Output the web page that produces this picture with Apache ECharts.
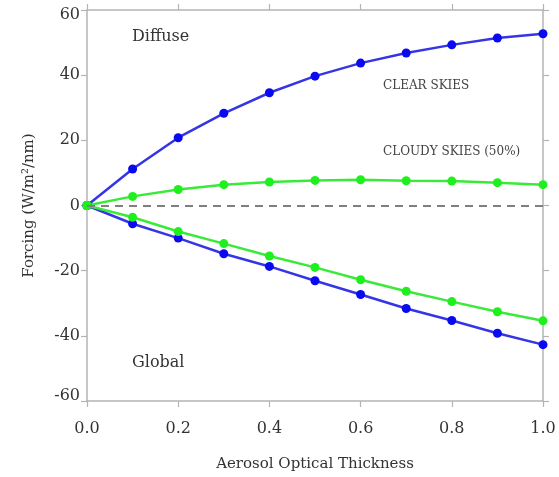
<!DOCTYPE html>
<html>
<head>
<meta charset="utf-8">
<script src="https://cdn.jsdelivr.net/npm/echarts@6/dist/echarts.min.js"></script>
<style>
html,body{margin:0;padding:0;background:#fff;}
#c{width:559px;height:477px;}
</style>
</head>
<body>
<div id="c"></div>
<script>
var aot = [0, 0.1, 0.2, 0.3, 0.4, 0.5, 0.6, 0.7, 0.8, 0.9, 1.0];
var clearDiffuse = [0, 11.2, 20.8, 28.3, 34.6, 39.7, 43.7, 46.8, 49.3, 51.4, 52.7];
var cloudyDiffuse = [0, 2.8, 4.9, 6.4, 7.2, 7.7, 7.9, 7.6, 7.5, 7.0, 6.4];
var clearGlobal = [0, -5.6, -10.0, -14.8, -18.7, -23.1, -27.3, -31.6, -35.3, -39.2, -42.7];
var cloudyGlobal = [0, -3.6, -8.0, -11.7, -15.5, -19.0, -22.8, -26.3, -29.5, -32.6, -35.4];
var xTicks = [0, 0.2, 0.4, 0.6, 0.8, 1.0];
var yTicks = [-60, -40, -20, 0, 20, 40, 60];

var FONT = 'DejaVu Serif';
var AXC = '#b4b4b4';
var TXT = '#333';

function pairs(ys){ return aot.map(function(x,i){ return [x, ys[i]]; }); }

function lineSeries(name, ys, line, dot){
  return {
    name: name, type: 'line', data: pairs(ys),
    symbol: 'circle', symbolSize: 9,
    lineStyle: {color: line, width: 2.5},
    itemStyle: {color: dot},
    animation: false, z: 3
  };
}

var chart = echarts.init(document.getElementById('c'));
var baseX = {
  type: 'value', min: 0, max: 1, interval: 0.2,
  axisLine: {show: true, onZero: false, lineStyle: {color: AXC, width: 1.5}},
  axisTick: {show: true, inside: false, length: 6, lineStyle: {color: AXC, width: 1.2}},
  splitLine: {show: false}
};
var baseY = {
  type: 'value', min: -60, max: 60, interval: 20,
  axisLine: {show: true, onZero: false, lineStyle: {color: AXC, width: 1.5}},
  axisTick: {show: true, inside: false, length: 6, lineStyle: {color: AXC, width: 1.2}},
  splitLine: {show: false}
};

chart.setOption({
  backgroundColor: '#fff',
  animation: false,
  grid: {left: 87, right: 16, top: 10, bottom: 74},
  xAxis: [
    Object.assign({}, baseX, {
      position: 'bottom',
      name: 'Aerosol Optical Thickness', nameLocation: 'middle', nameGap: 56,
      nameTextStyle: {fontFamily: FONT, fontSize: 15, color: TXT},
      axisLabel: {fontFamily: FONT, fontSize: 16, color: TXT, margin: 20,
        customValues: xTicks,
        formatter: function(v){ return v.toFixed(1); }}
    }),
    Object.assign({}, baseX, {position: 'top', axisLabel: {show: false}})
  ],
  yAxis: [
    Object.assign({}, baseY, {
      position: 'left',
      name: 'Forcing (W/m\u00B2/nm)', nameLocation: 'middle', nameGap: 50, nameRotate: 90,
      nameTextStyle: {fontFamily: FONT, fontSize: 15, color: TXT},
      axisLabel: {fontFamily: FONT, fontSize: 16, color: TXT, margin: 7,
        customValues: yTicks,
        formatter: function(v){
          if (v === 60) return '{t|' + v + '}';
          if (v === -60) return '{b|' + v + '}';
          return '{n|' + v + '}';
        },
        rich: {
          t: {fontFamily: FONT, fontSize: 16, color: TXT, padding: [10, 0, 0, 0]},
          b: {fontFamily: FONT, fontSize: 16, color: TXT, padding: [0, 0, 10, 0]},
          n: {fontFamily: FONT, fontSize: 16, color: TXT}
        }}
    }),
    Object.assign({}, baseY, {position: 'right', axisLabel: {show: false}})
  ],
  series: [
    {
      type: 'line', data: [], silent: true,
      markLine: {
        symbol: 'none', silent: true, animation: false,
        label: {show: false},
        lineStyle: {color: '#808080', type: [8, 6], width: 1.8},
        data: [{yAxis: 0}]
      }
    },
    lineSeries('Clear Diffuse', clearDiffuse, '#3535e6', '#0a0af0'),
    lineSeries('Clear Global', clearGlobal, '#3535e6', '#0a0af0'),
    lineSeries('Cloudy Diffuse', cloudyDiffuse, '#3aea3a', '#1ef01e'),
    lineSeries('Cloudy Global', cloudyGlobal, '#3aea3a', '#1ef01e')
  ],
  graphic: [
    {type: 'text', left: 132, top: 29, style: {text: 'Diffuse', font: '16px "DejaVu Serif"', fill: TXT}},
    {type: 'text', left: 132, top: 355, style: {text: 'Global', font: '16px "DejaVu Serif"', fill: TXT}},
    {type: 'text', left: 383, top: 80, style: {text: 'CLEAR SKIES', font: '12px "DejaVu Serif"', fill: '#444'}},
    {type: 'text', left: 383, top: 146, style: {text: 'CLOUDY SKIES (50%)', font: '12px "DejaVu Serif"', fill: '#444'}}
  ]
});
</script>
</body>
</html>
